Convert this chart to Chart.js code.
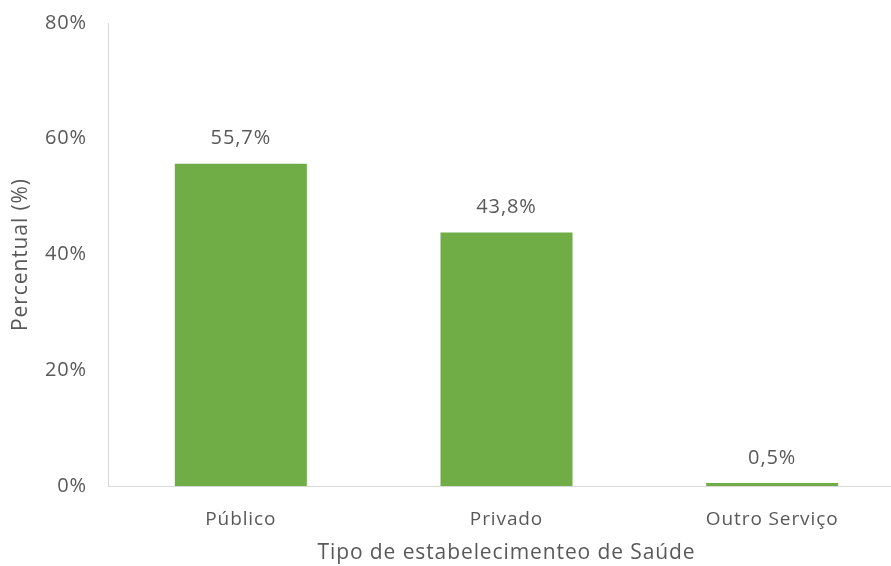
<!DOCTYPE html>
<html>
<head>
<meta charset="UTF-8">
<title>Tipo de estabelecimento de Saúde</title>
<script src="https://cdn.jsdelivr.net/npm/chart.js@4/dist/chart.umd.min.js"></script>
<style>
  html, body { margin: 0; padding: 0; background: #fff; overflow: hidden; }
  #wrap { width: 905px; height: 566px; }
</style>
</head>
<body>
<div id="wrap"><canvas id="canvas"></canvas></div>
<script>
  // tipos de estabelecimento e percentuais
  const categorias = ["Público", "Privado", "Outro Serviço"];
  const percentuais = [55.7, 43.8, 0.5];
  const yTicks = [0, 20, 40, 60, 80];

  const cinza = "#595959";
  const fonte = "'Open Sans', sans-serif";

  // espaçamento entre letras para todo o texto do gráfico
  const espacamento = {
    id: "espacamento",
    beforeDraw(chart) { chart.ctx.letterSpacing = "0.9px"; }
  };

  // rótulos de valor acima das barras
  const rotulos = {
    id: "rotulos",
    afterDatasetsDraw(chart) {
      const ctx = chart.ctx;
      const meta = chart.getDatasetMeta(0);
      ctx.save();
      ctx.font = "20px " + fonte;
      ctx.fillStyle = cinza;
      ctx.textAlign = "center";
      ctx.textBaseline = "middle";
      meta.data.forEach((bar, i) => {
        const txt = percentuais[i].toFixed(1).replace(".", ",") + "%";
        ctx.fillText(txt, bar.x, bar.y - 25);
      });
      ctx.restore();
    }
  };

  new Chart(document.getElementById("canvas"), {
    type: "bar",
    data: {
      labels: categorias,
      datasets: [{
        data: percentuais,
        backgroundColor: "#70AD47",
        barPercentage: 0.497,
        categoryPercentage: 1
      }]
    },
    options: {
      responsive: true,
      maintainAspectRatio: false,
      animation: false,
      layout: { padding: { top: 8, right: 0, bottom: 0, left: 0 } },
      plugins: { legend: { display: false }, tooltip: { enabled: false } },
      scales: {
        x: {
          grid: { display: false },
          border: { display: true, color: "#d9d9d9", width: 1 },
          ticks: { color: cinza, font: { family: fonte, size: 19 }, padding: 14 },
          title: {
            display: true,
            text: "Tipo de estabelecimenteo de Saúde",
            color: cinza,
            font: { family: fonte, size: 21 },
            padding: { top: 0, bottom: 0 }
          },
          afterFit(scale) { scale.height = 80; }
        },
        y: {
          min: 0,
          max: 80,
          afterBuildTicks(scale) { scale.ticks = yTicks.map(v => ({ value: v })); },
          grid: { display: false },
          border: { display: true, color: "#d9d9d9", width: 1 },
          ticks: {
            color: cinza,
            font: { family: fonte, size: 20, lineHeight: 1 },
            padding: 13,
            callback: v => v + "%"
          },
          title: {
            display: true,
            text: "Percentual (%)",
            color: cinza,
            font: { family: fonte, size: 21 },
            padding: { top: 8, bottom: 0 }
          },
          afterFit(scale) { scale.width = 108; }
        }
      }
    },
    plugins: [espacamento, rotulos]
  });
</script>
</body>
</html>
